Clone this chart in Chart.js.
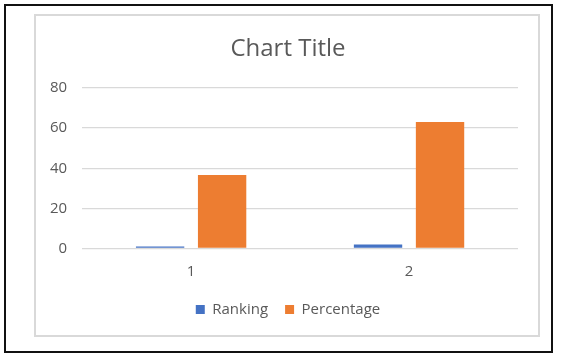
<!DOCTYPE html>
<html>
<head>
<meta charset="utf-8">
<script src="https://cdn.jsdelivr.net/npm/chart.js@4"></script>
<style>
  html, body { margin: 0; padding: 0; background: #fff; }
  #wrap { position: relative; width: 562px; height: 359px; overflow: hidden; }
  .outer { position: absolute; left: 4px; top: 4px; width: 549px; height: 349px; box-sizing: border-box; border: 2px solid #111; }
  .inner { position: absolute; left: 34px; top: 14px; width: 506px; height: 323px; box-sizing: border-box; border: 2px solid #d9d9d9; }
  canvas { position: absolute; left: 0; top: 0; }
</style>
</head>
<body>
<div id="wrap">
  <div class="outer"></div>
  <div class="inner"></div>
  <canvas id="c" width="562" height="359"></canvas>
</div>
<script>
const categories = ['1', '2'];
const rankingValues = [1, 2];
const percentageValues = [36.6, 63];
const yMin = 0, yMax = 80, yStep = 20;
const seriesNames = ['Ranking', 'Percentage'];

const textColor = '#595959';
const font = "'Open Sans', sans-serif";

new Chart(document.getElementById('c'), {
  type: 'bar',
  data: {
    labels: categories,
    datasets: [
      { label: seriesNames[0], data: rankingValues, backgroundColor: '#4472C4', borderWidth: 0,
        categoryPercentage: 0.569, barPercentage: 0.78 },
      { label: seriesNames[1], data: percentageValues, backgroundColor: '#ED7D31', borderWidth: 0,
        categoryPercentage: 0.569, barPercentage: 0.78 }
    ]
  },
  options: {
    responsive: false,
    animation: false,
    layout: { padding: { left: 35, right: 21, top: 17, bottom: 32 } },
    plugins: {
      title: {
        display: true, text: 'Chart Title', color: textColor,
        font: { family: font, size: 24, weight: 'normal' },
        padding: { top: 17.5, bottom: 24.7 }
      },
      legend: {
        position: 'bottom',
        labels: { color: textColor, font: { family: font, size: 15 }, boxWidth: 9, boxHeight: 9, padding: 17 }
      },
      tooltip: { enabled: false }
    },
    scales: {
      x: {
        grid: { display: false, drawTicks: false },
        border: { display: false },
        ticks: { color: textColor, font: { family: font, size: 15 }, padding: 14.5 },
        afterFit: (s) => { s.height = 36.5; }
      },
      y: {
        min: yMin, max: yMax,
        grid: { color: '#d9d9d9', lineWidth: 1.3, drawTicks: false },
        border: { display: false },
        ticks: { stepSize: yStep, color: textColor, font: { family: font, size: 15 }, padding: 15 }
      },
      yR: {
        position: 'right', display: true,
        grid: { display: false, drawTicks: false },
        border: { display: false },
        ticks: { display: false },
        afterFit: (s) => { s.width = 23; }
      }
    }
  }
});
</script>
</body>
</html>
